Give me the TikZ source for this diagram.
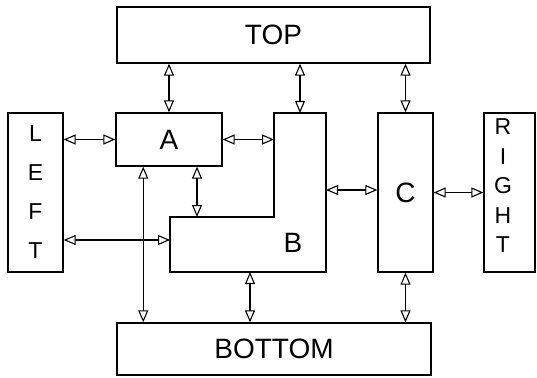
\documentclass[tikz,border=0pt]{standalone}
\usepackage{fontspec}
\setsansfont{Liberation Sans}
\usetikzlibrary{arrows.meta, positioning, calc}
\tikzstyle{block} = [draw, line width=1.3pt, rectangle, inner sep=0pt]
\tikzstyle{link} = [line width=1.1pt, {Triangle[open,length=12pt,width=10pt]}-{Triangle[open,length=12pt,width=10pt]}]

\begin{document}
\begin{tikzpicture}[x=1pt, y=-1pt, font=\sffamily\fontsize{28}{28}\selectfont]
    \useasboundingbox (0,0) rectangle (537,377);

    % Outer blocks
    \node (top) [block, minimum width=313pt, minimum height=56pt] at (273.5,35) {TOP};
    \node (bottom) [block, minimum width=314pt, minimum height=52pt] at (274,349) {BOTTOM};
    \node (left) [block, minimum width=55pt, minimum height=159pt, align=center, font=\sffamily\fontsize{23}{39}\selectfont] at (35.5,192.5) {L\\E\\F\\T};
    \node (right) [block, minimum width=51pt, minimum height=159pt] at (509.5,192.5) {};
    \node (rightlbl) [align=center, font=\sffamily\fontsize{23}{29.5}\selectfont] at (503,186) {R\\I\\G\\H\\T};

    % Inner blocks
    \node (a) [block, minimum width=106pt, minimum height=53pt] at (169,139.5) {A};
    \node (c) [block, minimum width=55pt, minimum height=159pt] at (405.5,192.5) {C};

    % L-shaped block B
    \draw[line width=1.3pt] (274,113) -- (326,113) -- (326,272) -- (170,272) -- (170,217) -- (274,217) -- cycle;
    \node (b) at (293,243) {B};
    \coordinate (b-top) at (300,113);
    \coordinate (b-inner) at (274,165);
    \coordinate (b-step) at (197,217);
    \coordinate (b-west) at (170,240);
    \coordinate (b-east) at (326,190);
    \coordinate (b-foot) at (250,272);
    \coordinate (a-foot) at ($(a.south west)!0.26!(a.south east)$);

    % Links to TOP
    \draw[link] (a.north |- top.south) -- (a.north);
    \draw[link] (b-top |- top.south) -- (b-top);
    \draw[link] (c.north |- top.south) -- (c.north);

    % Side links
    \draw[link] (a.west -| left.east) -- (a.west);
    \draw[link] (a.east) -- (a.east -| b-inner);
    \draw[link] (b-step |- a.south) -- (b-step);
    \draw[link] (b-west -| left.east) -- (b-west);
    \draw[link] (b-east) -- (b-east -| c.west);
    \draw[link] (c.east) -- (right.west);

    % Links to BOTTOM
    \draw[link] (a-foot) -- (a-foot |- bottom.north);
    \draw[link] (b-foot) -- (b-foot |- bottom.north);
    \draw[link] (c.south) -- (c.south |- bottom.north);
\end{tikzpicture}
\end{document}
